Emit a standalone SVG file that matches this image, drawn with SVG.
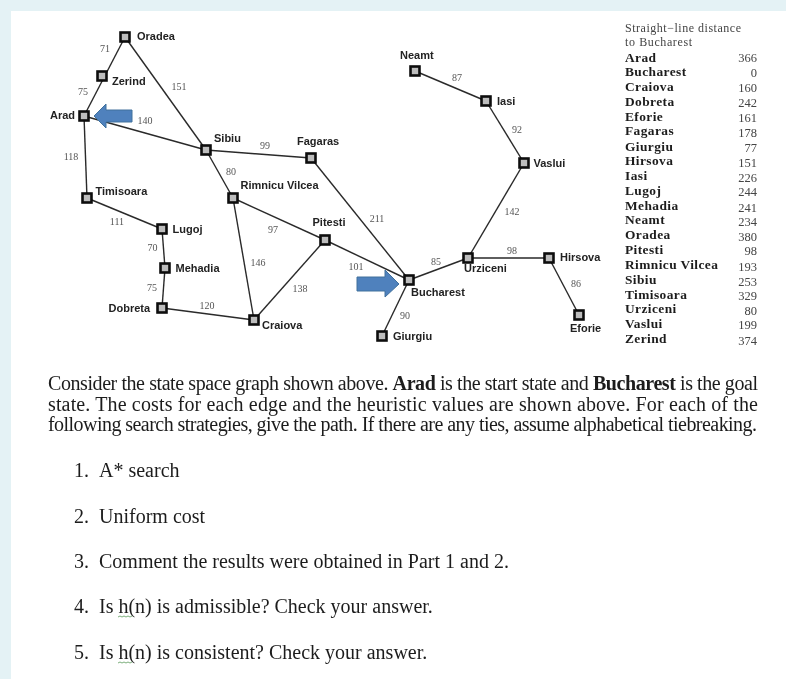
<svg xmlns="http://www.w3.org/2000/svg" width="786" height="679" viewBox="0 0 786 679">
<defs>
<style>
.bg{fill:#e4f2f5}
.pg{fill:#fff}
.e{stroke:#2a2a2a;stroke-width:1.4;fill:none}
.n{fill:#bdbdbd;stroke:#0c0c0c;stroke-width:2.6}
.l{font:bold 11px "Liberation Sans",Arial,sans-serif;fill:#222}
.w{font:10px "Liberation Serif","Times New Roman",serif;fill:#555;text-anchor:middle}
.a{fill:#4f81bd;stroke:#41719c;stroke-width:1}
.h{font:12px "Liberation Serif","Times New Roman",serif;fill:#444}
.tl{font:bold 13.4px "Liberation Serif","Times New Roman",serif;fill:#1c1c1c;letter-spacing:.42px}
.tv{font:12.5px "Liberation Serif","Times New Roman",serif;fill:#444;text-anchor:end}
.p{font:20px "Liberation Serif","Times New Roman",serif;fill:#1c1c1c}
.b{font-weight:bold}
.sq{stroke:#5a9a5a;stroke-width:.8;fill:none}
</style>
<filter id="soft" x="0" y="0" width="100%" height="100%"><feGaussianBlur stdDeviation="0.35"/></filter>
</defs>
<rect class="bg" width="786" height="679"/>
<rect class="pg" x="11" y="11" width="775" height="668"/>
<g filter="url(#soft)">
<g id="connectors">
<path class="e" d="M125 37L84 116"/>
<path class="e" d="M125 37L206 150"/>
<path class="e" d="M84 116L206 150"/>
<path class="e" d="M84 116L87 198"/>
<path class="e" d="M206 150L311 158"/>
<path class="e" d="M206 150L233 198"/>
<path class="e" d="M311 158L409 280"/>
<path class="e" d="M87 198L162 229"/>
<path class="e" d="M162 229L165 268"/>
<path class="e" d="M165 268L162 308"/>
<path class="e" d="M162 308L254 320"/>
<path class="e" d="M233 198L254 320"/>
<path class="e" d="M233 198L325 240"/>
<path class="e" d="M254 320L325 240"/>
<path class="e" d="M325 240L409 280"/>
<path class="e" d="M409 280L382 336"/>
<path class="e" d="M409 280L468 258"/>
<path class="e" d="M468 258L549 258"/>
<path class="e" d="M549 258L579 315"/>
<path class="e" d="M468 258L524 163"/>
<path class="e" d="M524 163L486 101"/>
<path class="e" d="M486 101L415 71"/>
</g>
<g id="weights">
<text class="w" x="105" y="52">71</text>
<text class="w" x="83" y="95">75</text>
<text class="w" x="179" y="90">151</text>
<text class="w" x="145" y="124">140</text>
<text class="w" x="265" y="149">99</text>
<text class="w" x="71" y="160">118</text>
<text class="w" x="231" y="175">80</text>
<text class="w" x="117" y="225">111</text>
<text class="w" x="273" y="233">97</text>
<text class="w" x="152.500" y="251">70</text>
<text class="w" x="258" y="266">146</text>
<text class="w" x="152" y="291">75</text>
<text class="w" x="207" y="309">120</text>
<text class="w" x="300" y="292">138</text>
<text class="w" x="356" y="270">101</text>
<text class="w" x="377" y="222">211</text>
<text class="w" x="457" y="81">87</text>
<text class="w" x="517" y="133">92</text>
<text class="w" x="512" y="215">142</text>
<text class="w" x="436" y="265">85</text>
<text class="w" x="512" y="254">98</text>
<text class="w" x="576" y="287">86</text>
<text class="w" x="405" y="319">90</text>
</g>
<g id="node-oradea"><rect class="n" x="120.500" y="32.500" width="9" height="9"/><text class="l" x="137" y="40">Oradea</text></g>
<g id="node-zerind"><rect class="n" x="97.500" y="71.500" width="9" height="9"/><text class="l" x="112" y="85">Zerind</text></g>
<g id="node-arad"><rect class="n" x="79.500" y="111.500" width="9" height="9"/><text class="l" x="50" y="119">Arad</text></g>
<g id="node-sibiu"><rect class="n" x="201.500" y="145.500" width="9" height="9"/><text class="l" x="214" y="142">Sibiu</text></g>
<g id="node-fagaras"><rect class="n" x="306.500" y="153.500" width="9" height="9"/><text class="l" x="297" y="145">Fagaras</text></g>
<g id="node-timisoara"><rect class="n" x="82.500" y="193.500" width="9" height="9"/><text class="l" x="95.500" y="195">Timisoara</text></g>
<g id="node-rimnicu"><rect class="n" x="228.500" y="193.500" width="9" height="9"/><text class="l" x="240.500" y="189">Rimnicu Vilcea</text></g>
<g id="node-lugoj"><rect class="n" x="157.500" y="224.500" width="9" height="9"/><text class="l" x="172.500" y="233">Lugoj</text></g>
<g id="node-mehadia"><rect class="n" x="160.500" y="263.500" width="9" height="9"/><text class="l" x="175.500" y="272">Mehadia</text></g>
<g id="node-dobreta"><rect class="n" x="157.500" y="303.500" width="9" height="9"/><text class="l" x="108.500" y="312">Dobreta</text></g>
<g id="node-craiova"><rect class="n" x="249.500" y="315.500" width="9" height="9"/><text class="l" x="262" y="329">Craiova</text></g>
<g id="node-pitesti"><rect class="n" x="320.500" y="235.500" width="9" height="9"/><text class="l" x="312.500" y="226">Pitesti</text></g>
<g id="node-bucharest"><rect class="n" x="404.500" y="275.500" width="9" height="9"/><text class="l" x="411" y="296">Bucharest</text></g>
<g id="node-giurgiu"><rect class="n" x="377.500" y="331.500" width="9" height="9"/><text class="l" x="393" y="340">Giurgiu</text></g>
<g id="node-urziceni"><rect class="n" x="463.500" y="253.500" width="9" height="9"/><text class="l" x="464" y="272">Urziceni</text></g>
<g id="node-hirsova"><rect class="n" x="544.500" y="253.500" width="9" height="9"/><text class="l" x="560" y="261">Hirsova</text></g>
<g id="node-eforie"><rect class="n" x="574.500" y="310.500" width="9" height="9"/><text class="l" x="570" y="332">Eforie</text></g>
<g id="node-vaslui"><rect class="n" x="519.500" y="158.500" width="9" height="9"/><text class="l" x="533.500" y="167">Vaslui</text></g>
<g id="node-iasi"><rect class="n" x="481.500" y="96.500" width="9" height="9"/><text class="l" x="497" y="105">Iasi</text></g>
<g id="node-neamt"><rect class="n" x="410.500" y="66.500" width="9" height="9"/><text class="l" x="400" y="59">Neamt</text></g>
<path id="arrow-start" class="a" d="M94 116L106 104V110H132V122H106V128Z"/>
<path id="arrow-goal" class="a" d="M399 284L385 270V277H357V291H385V297Z"/>
<g id="heuristic-table">
<text class="h" x="625" y="32" textLength="116" lengthAdjust="spacing">Straight−line distance</text>
<text class="h" x="625" y="46" textLength="67" lengthAdjust="spacing">to Bucharest</text>
<text class="tl" x="625" y="62">Arad</text><text class="tv" x="757" y="62">366</text>
<text class="tl" x="625" y="76">Bucharest</text><text class="tv" x="757" y="77">0</text>
<text class="tl" x="625" y="91">Craiova</text><text class="tv" x="757" y="92">160</text>
<text class="tl" x="625" y="106">Dobreta</text><text class="tv" x="757" y="107">242</text>
<text class="tl" x="625" y="121">Eforie</text><text class="tv" x="757" y="122">161</text>
<text class="tl" x="625" y="135">Fagaras</text><text class="tv" x="757" y="137">178</text>
<text class="tl" x="625" y="151">Giurgiu</text><text class="tv" x="757" y="152">77</text>
<text class="tl" x="625" y="165">Hirsova</text><text class="tv" x="757" y="167">151</text>
<text class="tl" x="625" y="180">Iasi</text><text class="tv" x="757" y="182">226</text>
<text class="tl" x="625" y="195">Lugoj</text><text class="tv" x="757" y="196">244</text>
<text class="tl" x="625" y="210">Mehadia</text><text class="tv" x="757" y="212">241</text>
<text class="tl" x="625" y="224">Neamt</text><text class="tv" x="757" y="226">234</text>
<text class="tl" x="625" y="239">Oradea</text><text class="tv" x="757" y="241">380</text>
<text class="tl" x="625" y="254">Pitesti</text><text class="tv" x="757" y="255">98</text>
<text class="tl" x="625" y="269">Rimnicu Vilcea</text><text class="tv" x="757" y="271">193</text>
<text class="tl" x="625" y="284">Sibiu</text><text class="tv" x="757" y="286">253</text>
<text class="tl" x="625" y="299">Timisoara</text><text class="tv" x="757" y="300">329</text>
<text class="tl" x="625" y="313">Urziceni</text><text class="tv" x="757" y="315">80</text>
<text class="tl" x="625" y="328">Vaslui</text><text class="tv" x="757" y="329">199</text>
<text class="tl" x="625" y="343">Zerind</text><text class="tv" x="757" y="345">374</text>
</g>
<g id="question">
<text class="p" x="48" y="390" textLength="710" lengthAdjust="spacing">Consider the state space graph shown above. <tspan class="b">Arad</tspan> is the start state and <tspan class="b">Bucharest</tspan> is the goal</text>
<text class="p" x="48" y="411" textLength="710" lengthAdjust="spacing">state. The costs for each edge and the heuristic values are shown above. For each of the</text>
<text class="p" x="48" y="431" textLength="709" lengthAdjust="spacing">following search strategies, give the path. If there are any ties, assume alphabetical tiebreaking.</text>
<text class="p" x="74" y="477">1.</text><text class="p" x="99" y="477">A* search</text>
<text class="p" x="74" y="523">2.</text><text class="p" x="99" y="523">Uniform cost</text>
<text class="p" x="74" y="568">3.</text><text class="p" x="99" y="568">Comment the results were obtained in Part 1 and 2.</text>
<text class="p" x="74" y="613">4.</text><text class="p" x="99" y="613">Is h(n) is admissible? Check your answer.</text>
<text class="p" x="74" y="659">5.</text><text class="p" x="99" y="659">Is h(n) is consistent? Check your answer.</text>
<path class="sq" d="M118 617l2 -1 2 1 2 -1 2 1 2 -1 2 1 2 -1"/>
<path class="sq" d="M118 663l2 -1 2 1 2 -1 2 1 2 -1 2 1 2 -1"/>
</g>
</g>
</svg>
